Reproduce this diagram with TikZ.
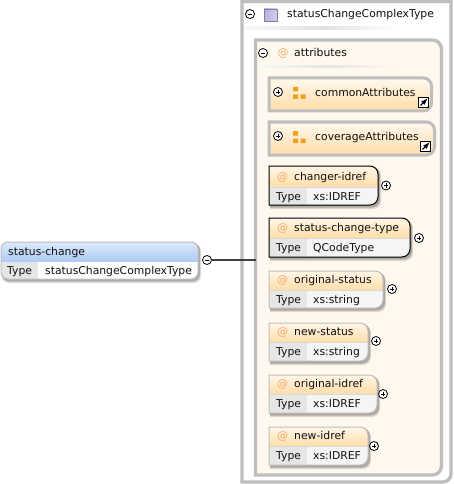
\documentclass[tikz,border=0pt]{standalone}
\usepackage{fontspec}
\usetikzlibrary{calc}
\setmainfont{DejaVu Sans}
\definecolor{frameg}{HTML}{BEBEBE}
\definecolor{cream}{HTML}{FFF8EE}
\definecolor{orangeb}{HTML}{FFDDA8}
\definecolor{oranget}{HTML}{FFF6E8}
\definecolor{bluet}{HTML}{DDE9FB}
\definecolor{blueb}{HTML}{AFCBF5}
\definecolor{typeg}{HTML}{E6E6E6}
\definecolor{valg}{HTML}{F5F5F5}
\definecolor{iconor}{HTML}{EFA31D}
\definecolor{atcol}{HTML}{EFAE6A}
\definecolor{purplef}{HTML}{BDB0E0}
\definecolor{txt}{HTML}{111111}
\tikzset{
  lbl/.style={anchor=base west,inner sep=0pt,font=\fontsize{10.8}{12}\selectfont,text=txt},
  atsign/.style={anchor=base west,inner sep=0pt,font=\fontsize{11}{12}\selectfont,text=atcol},
  toggle/.style={circle,draw=black,fill=white,line width=.8pt,minimum size=9pt,inner sep=0pt},
  sq/.style={fill=iconor,draw=none},
  link/.style={draw=black,fill=white,line width=1pt,minimum size=10pt,inner sep=0pt}
}
% right-rounded outline (x0,y0,x1,y1,radius)
\newcommand{\rpath}[5]{(#1,#2) -- ({#3-#5},#2) .. controls ({#3-.45*#5},#2) and (#3,{#2+.45*#5}) .. (#3,{#2+#5}) -- (#3,{#4-#5}) .. controls (#3,{#4-.45*#5}) and ({#3-.45*#5},#4) .. ({#3-#5},#4) -- (#1,#4) -- cycle}
% toggle marks
\newcommand{\tplus}[3]{\node[toggle] (#1) at (#2,#3) {}; \draw[line width=.6pt] ($(#1)+(-2.2,0)$) -- ($(#1)+(2.2,0)$) ($(#1)+(0,-2.2)$) -- ($(#1)+(0,2.2)$);}
\newcommand{\tminus}[3]{\node[toggle] (#1) at (#2,#3) {}; \draw[line width=.6pt] ($(#1)+(-2.2,0)$) -- ($(#1)+(2.2,0)$);}
% box body with shadow: x0 y0 x1 y1 ysplit
\newcommand{\tbox}[5]{%
  \fill[black,opacity=.13] \rpath{#1+1}{#2+2}{#3+3}{#4+4}{8};
  \fill[black,opacity=.22] \rpath{#1+1}{#2+1}{#3+2}{#4+2.5}{8};
  \begin{scope}
    \clip \rpath{#1}{#2}{#3}{#4}{8};
    \fill[valg] (#1,#5) rectangle (#3,#4);
    \fill[typeg] (#1,#5) rectangle (#1+38,#4);
  \end{scope}
}
\newcommand{\attrbox}[9]{%
  % name x1 y0 y1 ysplit border width label type
  \tbox{269}{#3}{#2}{#4}{#5}
  \begin{scope}
    \clip \rpath{269}{#3}{#2}{#4}{8};
    \shade[top color=oranget,bottom color=orangeb] (269,#3) rectangle (#2,#5);
  \end{scope}
  \draw[frameg!60,line width=.5pt] (269,#5) -- (#2,#5);
  \draw[#6,line width=#7] \rpath{269}{#3}{#2}{#4}{8};
  \node[atsign] (#1at) at (277,#5-6.5) {@};
  \node[lbl] (#1n) at (294,#5-6.5) {#8};
  \node[lbl] (#1tl) at (276,#5+13.5) {Type};
  \node[lbl] (#1tv) at (313,#5+13.5) {#9};
}
\begin{document}
\begin{tikzpicture}[x=1pt,y=-1pt]
\useasboundingbox (0,0) rectangle (453,484);
\fill[white] (0,0) rectangle (453,484);

% outer frame
\draw[frameg,line width=3.4pt,fill=white] (242,1.5) -- (451,1.5) -- (451,474) .. controls (451,478.4) and (447.4,482) .. (443,482) -- (242,482) -- cycle;
\node[lbl] (typename) at (287,18) {statusChangeComplexType};
\tminus{outermin}{250}{14}
\draw[draw=purplef!70!black,line width=.6pt,left color=purplef,right color=purplef!65] (264,9) rectangle (277,21);
\shade[left color=frameg!10,right color=white,middle color=frameg!45] (245,27) rectangle (400,30);

% inner frame
\draw[frameg,line width=3.4pt,fill=cream] \rpath{255.5}{40}{441.5}{475}{9};
\tminus{innermin}{263}{53}
\node[atsign] (attrsat) at (277.5,57) {@};
\node[lbl] (attrs) at (294,57) {attributes};
\shade[left color=frameg!10,right color=cream,middle color=frameg!40] (258,65.5) rectangle (396,68);

% attribute groups
\shade[top color=cream,bottom color=orangeb] \rpath{269}{78}{431.5}{111}{8};
\draw[frameg,line width=3pt] \rpath{269}{78}{431.5}{111}{8};
\tplus{commonpl}{278}{92}
\fill[sq] (293,87) rectangle (298,91.5) (293,94.5) rectangle (298,99) (300.5,94.5) rectangle (305.5,99);
\node[lbl] (common) at (315,96) {commonAttributes};
\node[link] (commonlk) at (423.5,102.5) {};
\draw[line width=1.2pt,-latex] ($(commonlk.south west)+(2.5,-2.5)$) -- ($(commonlk.north east)+(-1.5,1.5)$);

\shade[top color=cream,bottom color=orangeb] \rpath{269}{122}{434.5}{155}{8};
\draw[frameg,line width=3pt] \rpath{269}{122}{434.5}{155}{8};
\tplus{coverpl}{278}{136}
\fill[sq] (293,131) rectangle (298,135.5) (293,138.5) rectangle (298,143) (300.5,138.5) rectangle (305.5,143);
\node[lbl] (cover) at (315,140) {coverageAttributes};
\node[link] (coverlk) at (425.5,146.5) {};
\draw[line width=1.2pt,-latex] ($(coverlk.south west)+(2.5,-2.5)$) -- ($(coverlk.north east)+(-1.5,1.5)$);

% attributes
\attrbox{chg}{378}{166}{205}{187}{black}{1pt}{changer-idref}{xs:IDREF}
\tplus{chgpl}{386}{185.5}
\attrbox{sct}{410}{218}{257}{238}{black}{1pt}{status-change-type}{QCodeType}
\tplus{sctpl}{419}{238}
\attrbox{ost}{383}{271}{308}{290}{frameg}{1pt}{original-status}{xs:string}
\tplus{ostpl}{392}{289}
\attrbox{nst}{368}{323}{361}{342}{frameg}{1pt}{new-status}{xs:string}
\tplus{nstpl}{376}{341}
\attrbox{oid}{377}{375}{413}{394}{frameg}{1pt}{original-idref}{xs:IDREF}
\tplus{oidpl}{383}{394}
\attrbox{nid}{368}{427}{465}{446}{frameg}{1pt}{new-idref}{xs:IDREF}
\tplus{nidpl}{374}{446}

% root element
\fill[black,opacity=.13,rounded corners=7pt] (2,244) rectangle (201,283);
\fill[black,opacity=.22,rounded corners=7pt] (2,243) rectangle (200,281.5);
\begin{scope}
  \clip[rounded corners=7pt] (1,242) rectangle (198,279);
  \fill[white] (1,261) rectangle (198,279);
  \fill[typeg] (1,261) rectangle (38,279);
  \shade[top color=bluet,bottom color=blueb] (1,242) rectangle (198,261);
\end{scope}
\draw[frameg,line width=1pt,rounded corners=7pt] (1,242) rectangle (198,279);
\node[lbl] (rootn) at (8,255) {status-change};
\node[lbl] (roottl) at (7,274) {Type};
\node[lbl] (roottv) at (45,274) {statusChangeComplexType};
\tminus{rootmin}{207}{260}
\coordinate (seqend) at (256,260);
\draw[black!75,line width=1.6pt] (rootmin) -- (seqend);
\end{tikzpicture}
\end{document}
